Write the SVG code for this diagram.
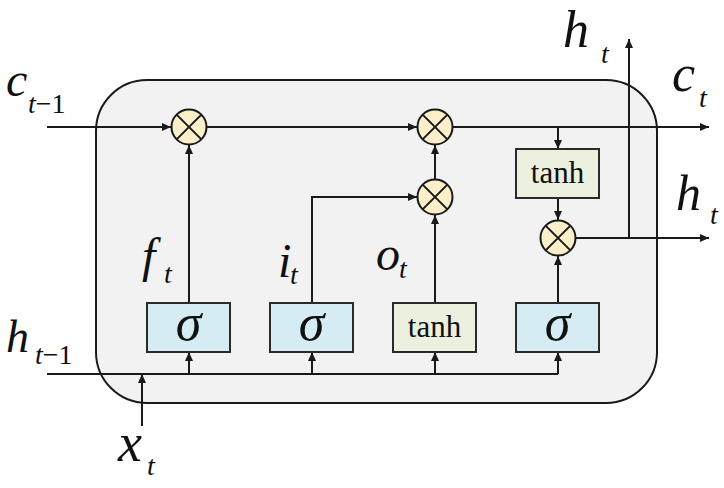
<svg xmlns="http://www.w3.org/2000/svg" width="724" height="488" viewBox="0 0 724 488">
<style>
.ln{fill:none;stroke:#1a1a1a;stroke-width:2}
.sig{fill:#d6ecf4;stroke:#2a2a2a;stroke-width:2}
.th{fill:#ebf1de;stroke:#2a2a2a;stroke-width:2}
.mul{fill:#fdefc9;stroke:#1a1a1a;stroke-width:2}
.x{stroke:#1a1a1a;stroke-width:2}
text{font-family:'Liberation Serif','Times New Roman',serif;fill:#111}
.lab{font-style:italic}
</style>
<defs>
<marker id="ah" markerUnits="userSpaceOnUse" markerWidth="10" markerHeight="10" refX="9" refY="4" orient="auto">
<path d="M0,0 L9,4 L0,8 z" fill="#1a1a1a"/>
</marker>
</defs>
<rect id="cell" x="96" y="80" width="561" height="323" rx="51" ry="51" fill="#f2f2f2" stroke="#1a1a1a" stroke-width="2"/>
<g id="connectors">
<path class="ln" d="M47,127 H171" marker-end="url(#ah)"/>
<path class="ln" d="M207,127 H417" marker-end="url(#ah)"/>
<path class="ln" d="M453,127 H709" marker-end="url(#ah)"/>
<path class="ln" d="M558,127 V149" marker-end="url(#ah)"/>
<path class="ln" d="M558,198 V220" marker-end="url(#ah)"/>
<path class="ln" d="M576,238 H709" marker-end="url(#ah)"/>
<path class="ln" d="M629,238 V39" marker-end="url(#ah)"/>
<path class="ln" d="M189,303 V145" marker-end="url(#ah)"/>
<path class="ln" d="M312,303 V197 H417" marker-end="url(#ah)"/>
<path class="ln" d="M435,303 V215" marker-end="url(#ah)"/>
<path class="ln" d="M435,179 V145" marker-end="url(#ah)"/>
<path class="ln" d="M558,303 V256" marker-end="url(#ah)"/>
<path class="ln" d="M47,374 H558"/>
<path class="ln" d="M189,374 V352" marker-end="url(#ah)"/>
<path class="ln" d="M312,374 V352" marker-end="url(#ah)"/>
<path class="ln" d="M435,374 V352" marker-end="url(#ah)"/>
<path class="ln" d="M558,374 V352" marker-end="url(#ah)"/>
<path class="ln" d="M142,426 V374" marker-end="url(#ah)"/>
</g>
<g id="mul1"><circle class="mul" cx="189" cy="127" r="17.5"/><path class="x" d="M176.6,114.6 L201.4,139.4 M201.4,114.6 L176.6,139.4"/></g>
<g id="mul2"><circle class="mul" cx="435" cy="127" r="17.5"/><path class="x" d="M422.6,114.6 L447.4,139.4 M447.4,114.6 L422.6,139.4"/></g>
<g id="mul3"><circle class="mul" cx="435" cy="197" r="17.5"/><path class="x" d="M422.6,184.6 L447.4,209.4 M447.4,184.6 L422.6,209.4"/></g>
<g id="mul4"><circle class="mul" cx="558" cy="238" r="17.5"/><path class="x" d="M545.6,225.6 L570.4,250.4 M570.4,225.6 L545.6,250.4"/></g>
<g id="tanh_out"><rect class="th" x="516" y="149" width="83" height="49"/><text x="557.5" y="183" font-size="31" text-anchor="middle">tanh</text></g>
<g id="sigma_f"><rect class="sig" x="147" y="303" width="83" height="49"/><text class="lab" x="188.5" y="340" font-size="52" text-anchor="middle">σ</text></g>
<g id="sigma_i"><rect class="sig" x="270" y="303" width="83" height="49"/><text class="lab" x="311.5" y="340" font-size="52" text-anchor="middle">σ</text></g>
<g id="tanh_c"><rect class="th" x="393" y="303" width="83" height="49"/><text x="434.5" y="337" font-size="31" text-anchor="middle">tanh</text></g>
<g id="sigma_o"><rect class="sig" x="516" y="303" width="83" height="49"/><text class="lab" x="557.5" y="340" font-size="52" text-anchor="middle">σ</text></g>
<g id="labels">
<text class="lab" x="6" y="96" font-size="48">c</text><text x="28" y="113" font-size="28"><tspan font-style="italic">t</tspan>−1</text>
<text class="lab" x="6" y="352" font-size="46">h</text><text x="35" y="364" font-size="28"><tspan font-style="italic">t</tspan>−1</text>
<text class="lab" x="118" y="461" font-size="54">x</text><text class="lab" x="147" y="475" font-size="28">t</text>
<text class="lab" x="563" y="47" font-size="52">h</text><text class="lab" x="601" y="63" font-size="28">t</text>
<text class="lab" x="672" y="91" font-size="52">c</text><text class="lab" x="699" y="107" font-size="28">t</text>
<text class="lab" x="676" y="210" font-size="50">h</text><text class="lab" x="710" y="224" font-size="28">t</text>
<text class="lab" x="142" y="272" font-size="48">f</text><text class="lab" x="164" y="283" font-size="28">t</text>
<text class="lab" x="278" y="277" font-size="48">i</text><text class="lab" x="290" y="284" font-size="28">t</text>
<text class="lab" x="376" y="270" font-size="48">o</text><text class="lab" x="399" y="278" font-size="28">t</text>
</g>
</svg>
